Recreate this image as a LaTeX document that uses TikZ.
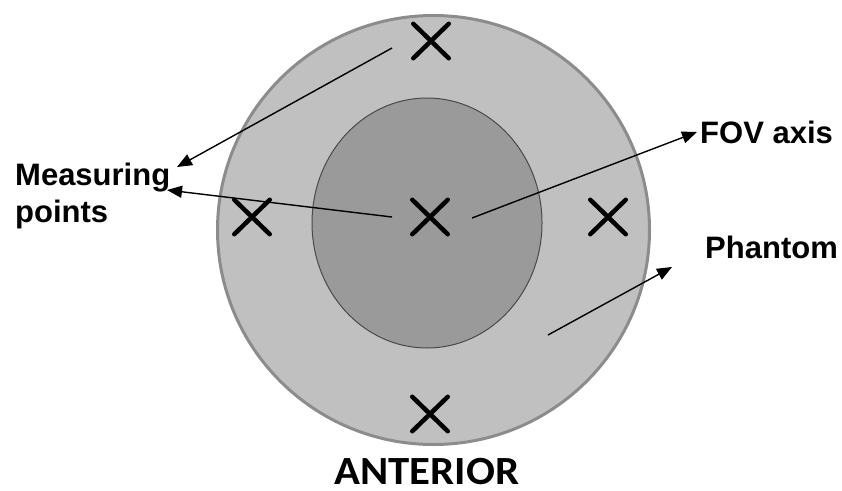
\documentclass[tikz,border=0pt]{standalone}
\usepackage{fontspec}
\setmainfont{Liberation Sans}
\newfontfamily\calibrifont{Carlito}
\usetikzlibrary{arrows.meta,shapes.misc}

\definecolor{phantomgray}{HTML}{C0C0C0}
\definecolor{phantomedge}{HTML}{8C8C8C}
\definecolor{fovgray}{HTML}{9A9A9A}
\definecolor{fovedge}{HTML}{4A4A4A}

\tikzset{
  mpoint/.style={cross out, draw=black, line width=4.5pt, line cap=round,
    minimum width=31pt, minimum height=30pt, inner sep=0pt},
  pointer/.style={line width=1.4pt, -{Triangle[length=15pt,width=12pt]}},
  callout/.style={font=\fontsize{31}{37}\selectfont\bfseries, inner sep=0pt}
}

\begin{document}
\begin{tikzpicture}[x=1pt,y=-1pt]
  \useasboundingbox (0,0) rectangle (842,490);

  % phantom and field of view
  \draw[fill=phantomgray, draw=phantomedge, line width=3pt]
    (433.5,230) ellipse [x radius=216, y radius=214.5];
  \draw[fill=fovgray, draw=fovedge, line width=1pt]
    (427,223) ellipse [x radius=115, y radius=125];

  % measuring points
  \node[mpoint] (ptop) at (431,41) {};
  \node[mpoint] (pleft) at (252,217) {};
  \node[mpoint] (pcent) at (430,217) {};
  \node[mpoint] (pright) at (608,217) {};
  \node[mpoint] (pbot) at (430,414) {};

  % labels
  \node[callout, align=left, anchor=north west] (meas) at (15,163) {Measuring\\points};
  \node[callout, anchor=base west] (fov) at (700,143) {FOV axis};
  \node[callout, anchor=base west] (phan) at (705,258) {Phantom};
  \node[inner sep=0pt, anchor=base] (ant) at (427,484)
    {\scalebox{1.07}[1]{\fontsize{40}{40}\selectfont\calibrifont\bfseries ANTERIOR}};

  % pointer ends
  \coordinate (s1) at (392,48);
  \coordinate (t1) at (177,167);
  \coordinate (s2) at (392,217);
  \coordinate (t2) at (167,190);
  \coordinate (s3) at (472,218);
  \coordinate (t3) at (697,132);
  \coordinate (s4) at (548,335);
  \coordinate (t4) at (672,267);

  \draw[pointer] (s1) -- (t1);
  \draw[pointer] (s2) -- (t2);
  \draw[pointer] (s3) -- (t3);
  \draw[pointer] (s4) -- (t4);

\end{tikzpicture}
\end{document}
